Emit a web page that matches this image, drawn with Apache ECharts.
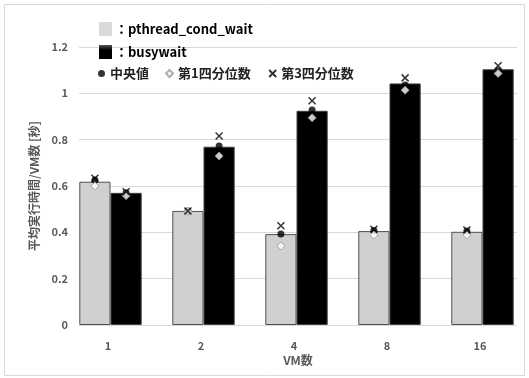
<!DOCTYPE html>
<html>
<head>
<meta charset="utf-8">
<script src="https://cdn.jsdelivr.net/npm/echarts@6/dist/echarts.min.js"></script>
<style>
html,body{margin:0;padding:0;background:#fff;}
#chart{width:529px;height:378px;}
</style>
</head>
<body>
<div id="chart"></div>
<script>
// ---- data ----
const categories = ['1', '2', '4', '8', '16'];
const condMean   = [0.618, 0.492, 0.392, 0.405, 0.402];
const busyMean   = [0.570, 0.769, 0.924, 1.042, 1.103];
const condMedian = [0.625, 0.492, 0.392, 0.408, 0.405];
const busyMedian = [0.570, 0.772, 0.927, 1.035, 1.097];
const condQ1     = [0.600, 0.490, 0.341, 0.388, 0.388];
const busyQ1     = [0.558, 0.729, 0.894, 1.013, 1.085];
const condQ3     = [0.633, 0.492, 0.428, 0.413, 0.410];
const busyQ3     = [0.575, 0.815, 0.967, 1.066, 1.118];

const FONT = '"Noto Sans CJK JP", "Noto Sans", sans-serif';
const GRAY = '#595959';
const CROSS = 'path://M0,0L10,10M10,0L0,10';
const OFF = 15.6;

const chart = echarts.init(document.getElementById('chart'), null, {renderer: 'canvas'});

function scatter(name, data, symbol, size, offset, style, z) {
  return {
    name: name, type: 'scatter', xAxisIndex: 1, yAxisIndex: 1,
    data: data, symbol: symbol, symbolSize: size, symbolOffset: [offset, 0],
    itemStyle: style, z: z, silent: true
  };
}

const medStyle = {color: '#000'};
const q1Style = {color: '#fff', borderColor: '#9a9a9a', borderWidth: 1};
const q3Style = {color: 'none', borderColor: '#000', borderWidth: 1.5};

chart.setOption({
  animation: false,
  backgroundColor: '#fff',
  textStyle: {fontFamily: FONT},
  graphic: [{
    type: 'rect', shape: {x: 4.5, y: 4.5, width: 520, height: 371},
    style: {fill: 'none', stroke: '#d9d9d9', lineWidth: 1}, z: -10
  }],
  legend: [{
    data: [
      {name: 'pthread_cond_wait', icon: 'rect', itemStyle: {color: '#d9d9d9', borderWidth: 0}},
      {name: 'busywait', icon: 'rect', itemStyle: {
        color: new echarts.graphic.LinearGradient(0, 0, 0, 1, [
          {offset: 0, color: '#555'}, {offset: 0.35, color: '#000'}, {offset: 1, color: '#000'}
        ]), borderWidth: 0}}
    ],
    orient: 'vertical', left: 94, top: 17,
    itemWidth: 13, itemHeight: 14, itemGap: 9,
    formatter: '：{name}',
    textStyle: {fontFamily: FONT, fontWeight: 'bold', fontSize: 13, color: '#000', padding: [0, 0, 0, -2]},
    selectedMode: false
  }, {
    data: [
      {name: '中央値', icon: 'circle'},
      {name: '第1四分位数', icon: 'diamond'},
      {name: '第3四分位数', icon: CROSS}
    ],
    orient: 'horizontal', left: 93, top: 62,
    itemWidth: 7, itemHeight: 7, itemGap: 16,
    textStyle: {fontFamily: FONT, fontWeight: 'bold', fontSize: 13, color: '#222'},
    selectedMode: false
  }],
  grid: [
    {left: 79, right: 12, top: 46.8, bottom: 53},
    {left: 64, width: 467, top: 46.8, bottom: 53}
  ],
  xAxis: [{
    type: 'category', gridIndex: 0, data: categories,
    axisLine: {show: false}, axisTick: {show: false}, axisLabel: {show: false},
    name: 'VM数', nameLocation: 'middle', nameGap: 29,
    nameTextStyle: {fontFamily: FONT, fontWeight: 'bold', fontSize: 12, color: GRAY}
  }, {
    type: 'category', gridIndex: 1, data: categories,
    axisLine: {show: false}, axisTick: {show: false},
    axisLabel: {margin: 15, fontFamily: FONT, fontWeight: 'bold', fontSize: 11, color: GRAY, padding: [0, 5, 0, 0]}
  }],
  yAxis: [{
    type: 'value', gridIndex: 0, min: 0, max: 1.2, interval: 0.2,
    axisLine: {show: false}, axisTick: {show: false},
    axisLabel: {margin: 11, fontFamily: FONT, fontWeight: 'bold', fontSize: 11, color: GRAY},
    splitLine: {lineStyle: {color: '#d9d9d9', width: 1}},
    name: '平均実行時間/VM数 [秒]', nameLocation: 'middle', nameGap: 37,
    nameTextStyle: {fontFamily: FONT, fontWeight: 'bold', fontSize: 12, color: GRAY}
  }, {
    type: 'value', gridIndex: 1, min: 0, max: 1.2, interval: 0.2, show: false,
    splitLine: {show: false}
  }],
  series: [{
    name: 'pthread_cond_wait', type: 'bar', xAxisIndex: 1, yAxisIndex: 1,
    data: condMean, barWidth: 31.2, barGap: '0%',
    itemStyle: {color: '#d0d0d0', borderColor: '#505050', borderWidth: 1}, z: 2
  }, {
    name: 'busywait', type: 'bar', xAxisIndex: 1, yAxisIndex: 1,
    data: busyMean, barWidth: 31.2, barGap: '0%',
    itemStyle: {color: '#000', borderColor: '#404040', borderWidth: 1}, z: 2
  },
  scatter('中央値', condMedian, 'circle', 7, -OFF, medStyle, 5),
  scatter('中央値', busyMedian, 'circle', 7, OFF, medStyle, 5),
  scatter('第1四分位数', condQ1, 'diamond', 8, -OFF, q1Style, 6),
  scatter('第1四分位数', busyQ1, 'diamond', 8, OFF, q1Style, 6),
  scatter('第3四分位数', condQ3, CROSS, 7, -OFF, q3Style, 7),
  scatter('第3四分位数', busyQ3, CROSS, 7, OFF, q3Style, 7)
  ]
});
</script>
</body>
</html>
